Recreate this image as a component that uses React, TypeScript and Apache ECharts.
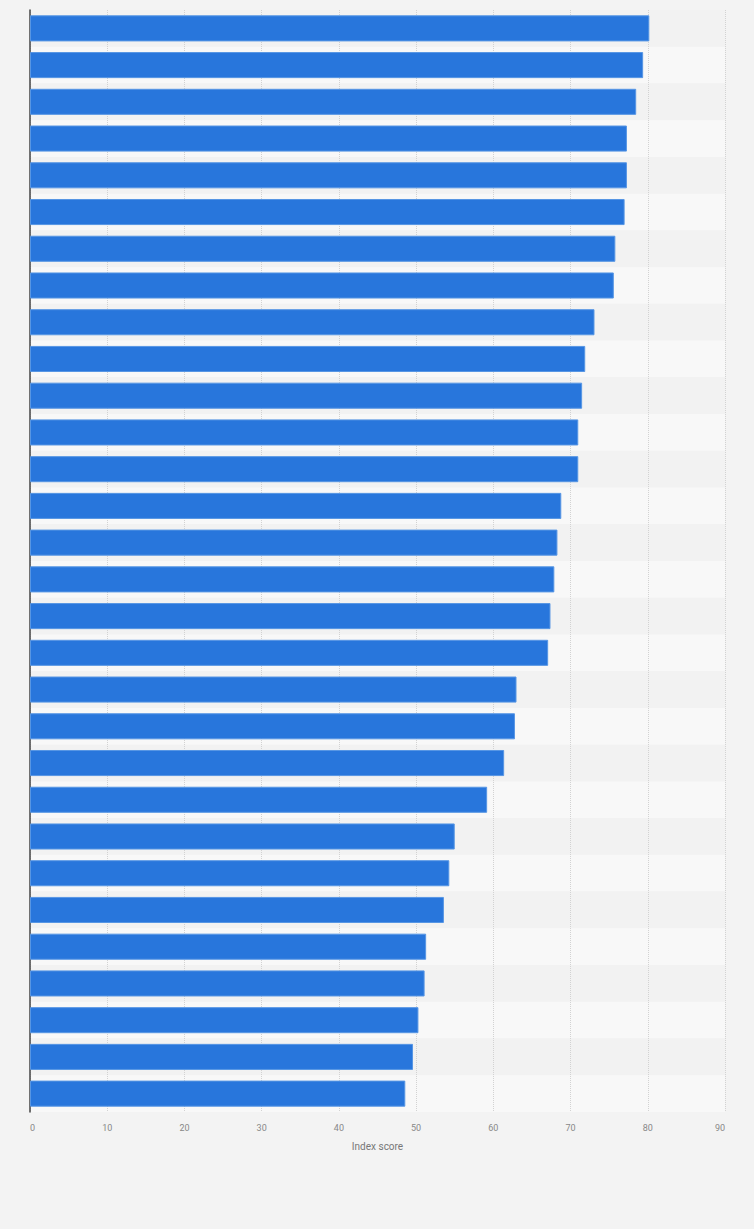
import React, { useEffect, useRef } from "react";
import * as echarts from "echarts";

const categories: string[] = Array.from({ length: 30 }, (_, i) => `#${i + 1}`);
const values: number[] = [
  80.2, 79.4, 78.5, 77.3, 77.3, 77.0, 75.8, 75.6, 73.1, 71.9,
  71.5, 71.0, 71.0, 68.8, 68.3, 67.9, 67.4, 67.1, 63.0, 62.8,
  61.4, 59.2, 55.0, 54.3, 53.6, 51.3, 51.1, 50.3, 49.6, 48.6,
];
const xTicks = { min: 0, max: 90, interval: 10 };
const axisName = "Index score";

export default function App() {
  const ref = useRef<HTMLDivElement>(null);
  useEffect(() => {
    document.body.style.margin = "0";
    const chart = echarts.init(ref.current!, null, { renderer: "svg" });
    chart.setOption({
      animation: false,
      backgroundColor: "#f3f3f3",
      grid: { left: 30, right: 29, top: 10, height: 1102, containLabel: false },
      xAxis: {
        type: "value",
        min: xTicks.min,
        max: xTicks.max,
        interval: xTicks.interval,
        name: axisName,
        nameLocation: "middle",
        nameGap: 29,
        nameTextStyle: { color: "#777", fontSize: 10, fontFamily: "Roboto, sans-serif" },
        axisLine: { show: false },
        axisTick: { show: false },
        axisLabel: {
          color: "#888",
          fontSize: 9,
          fontFamily: "Roboto, sans-serif",
          margin: 11,
          alignMinLabel: "left",
          alignMaxLabel: "right",
        },
        splitLine: { show: true, lineStyle: { color: "#d2d2d2", type: [1, 1], width: 1 } },
      },
      yAxis: {
        type: "category",
        data: categories,
        inverse: true,
        axisLine: { show: true, lineStyle: { color: "#444", width: 1.5 } },
        axisTick: { show: false },
        axisLabel: { show: false },
        splitLine: { show: false },
        splitArea: { show: true, areaStyle: { color: ["#f2f2f2", "#f8f8f8"] } },
      },
      series: [
        {
          type: "bar",
          data: values,
          barCategoryGap: "29%",
          itemStyle: { color: "#2876dc", borderColor: "#5796e4", borderWidth: 1 },
        },
      ],
    });
    return () => chart.dispose();
  }, []);
  return <div ref={ref} style={{ width: 754, height: 1229 }} />;
}
